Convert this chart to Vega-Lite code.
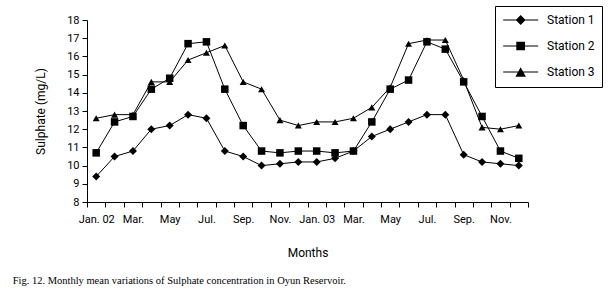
{
  "$schema": "https://vega.github.io/schema/vega-lite/v6.json",
  "width": 441,
  "height": 182,
  "autosize": {"type": "none"},
  "padding": {"left": 87, "top": 20, "right": 84, "bottom": 94},
  "background": "white",
  "config": {
    "view": {"stroke": null},
    "font": "Roboto",
    "axis": {
      "domainColor": "black",
      "tickColor": "black",
      "labelColor": "black",
      "titleColor": "black",
      "titleFontWeight": "normal",
      "labelFont": "Roboto",
      "titleFont": "Roboto",
      "labelFontSize": 11,
      "titleFontSize": 12,
      "tickSize": 5,
      "grid": false
    }
  },
  "title": {
    "text": "Fig. 12. Monthly mean variations of Sulphate concentration in Oyun Reservoir.",
    "orient": "bottom",
    "anchor": "start",
    "font": "Liberation Serif",
    "fontSize": 10.5,
    "fontWeight": "normal",
    "color": "black",
    "dx": -22,
    "offset": 18
  },
  "data": {
    "values": [
      {"date": "2002-01-15", "station": "Station 1", "sulphate": 9.4},
      {"date": "2002-02-15", "station": "Station 1", "sulphate": 10.5},
      {"date": "2002-03-15", "station": "Station 1", "sulphate": 10.8},
      {"date": "2002-04-15", "station": "Station 1", "sulphate": 12.0},
      {"date": "2002-05-15", "station": "Station 1", "sulphate": 12.2},
      {"date": "2002-06-15", "station": "Station 1", "sulphate": 12.8},
      {"date": "2002-07-15", "station": "Station 1", "sulphate": 12.6},
      {"date": "2002-08-15", "station": "Station 1", "sulphate": 10.8},
      {"date": "2002-09-15", "station": "Station 1", "sulphate": 10.5},
      {"date": "2002-10-15", "station": "Station 1", "sulphate": 10.0},
      {"date": "2002-11-15", "station": "Station 1", "sulphate": 10.1},
      {"date": "2002-12-15", "station": "Station 1", "sulphate": 10.2},
      {"date": "2003-01-15", "station": "Station 1", "sulphate": 10.2},
      {"date": "2003-02-15", "station": "Station 1", "sulphate": 10.4},
      {"date": "2003-03-15", "station": "Station 1", "sulphate": 10.8},
      {"date": "2003-04-15", "station": "Station 1", "sulphate": 11.6},
      {"date": "2003-05-15", "station": "Station 1", "sulphate": 12.0},
      {"date": "2003-06-15", "station": "Station 1", "sulphate": 12.4},
      {"date": "2003-07-15", "station": "Station 1", "sulphate": 12.8},
      {"date": "2003-08-15", "station": "Station 1", "sulphate": 12.8},
      {"date": "2003-09-15", "station": "Station 1", "sulphate": 10.6},
      {"date": "2003-10-15", "station": "Station 1", "sulphate": 10.2},
      {"date": "2003-11-15", "station": "Station 1", "sulphate": 10.1},
      {"date": "2003-12-15", "station": "Station 1", "sulphate": 10.0},
      {"date": "2002-01-15", "station": "Station 2", "sulphate": 10.7},
      {"date": "2002-02-15", "station": "Station 2", "sulphate": 12.4},
      {"date": "2002-03-15", "station": "Station 2", "sulphate": 12.7},
      {"date": "2002-04-15", "station": "Station 2", "sulphate": 14.2},
      {"date": "2002-05-15", "station": "Station 2", "sulphate": 14.8},
      {"date": "2002-06-15", "station": "Station 2", "sulphate": 16.7},
      {"date": "2002-07-15", "station": "Station 2", "sulphate": 16.8},
      {"date": "2002-08-15", "station": "Station 2", "sulphate": 14.2},
      {"date": "2002-09-15", "station": "Station 2", "sulphate": 12.2},
      {"date": "2002-10-15", "station": "Station 2", "sulphate": 10.8},
      {"date": "2002-11-15", "station": "Station 2", "sulphate": 10.7},
      {"date": "2002-12-15", "station": "Station 2", "sulphate": 10.8},
      {"date": "2003-01-15", "station": "Station 2", "sulphate": 10.8},
      {"date": "2003-02-15", "station": "Station 2", "sulphate": 10.7},
      {"date": "2003-03-15", "station": "Station 2", "sulphate": 10.8},
      {"date": "2003-04-15", "station": "Station 2", "sulphate": 12.4},
      {"date": "2003-05-15", "station": "Station 2", "sulphate": 14.2},
      {"date": "2003-06-15", "station": "Station 2", "sulphate": 14.7},
      {"date": "2003-07-15", "station": "Station 2", "sulphate": 16.8},
      {"date": "2003-08-15", "station": "Station 2", "sulphate": 16.4},
      {"date": "2003-09-15", "station": "Station 2", "sulphate": 14.6},
      {"date": "2003-10-15", "station": "Station 2", "sulphate": 12.7},
      {"date": "2003-11-15", "station": "Station 2", "sulphate": 10.8},
      {"date": "2003-12-15", "station": "Station 2", "sulphate": 10.4},
      {"date": "2002-01-15", "station": "Station 3", "sulphate": 12.6},
      {"date": "2002-02-15", "station": "Station 3", "sulphate": 12.8},
      {"date": "2002-03-15", "station": "Station 3", "sulphate": 12.8},
      {"date": "2002-04-15", "station": "Station 3", "sulphate": 14.6},
      {"date": "2002-05-15", "station": "Station 3", "sulphate": 14.6},
      {"date": "2002-06-15", "station": "Station 3", "sulphate": 15.8},
      {"date": "2002-07-15", "station": "Station 3", "sulphate": 16.2},
      {"date": "2002-08-15", "station": "Station 3", "sulphate": 16.6},
      {"date": "2002-09-15", "station": "Station 3", "sulphate": 14.6},
      {"date": "2002-10-15", "station": "Station 3", "sulphate": 14.2},
      {"date": "2002-11-15", "station": "Station 3", "sulphate": 12.5},
      {"date": "2002-12-15", "station": "Station 3", "sulphate": 12.2},
      {"date": "2003-01-15", "station": "Station 3", "sulphate": 12.4},
      {"date": "2003-02-15", "station": "Station 3", "sulphate": 12.4},
      {"date": "2003-03-15", "station": "Station 3", "sulphate": 12.6},
      {"date": "2003-04-15", "station": "Station 3", "sulphate": 13.2},
      {"date": "2003-05-15", "station": "Station 3", "sulphate": 14.3},
      {"date": "2003-06-15", "station": "Station 3", "sulphate": 16.7},
      {"date": "2003-07-15", "station": "Station 3", "sulphate": 16.9},
      {"date": "2003-08-15", "station": "Station 3", "sulphate": 16.9},
      {"date": "2003-09-15", "station": "Station 3", "sulphate": 14.7},
      {"date": "2003-10-15", "station": "Station 3", "sulphate": 12.1},
      {"date": "2003-11-15", "station": "Station 3", "sulphate": 12.0},
      {"date": "2003-12-15", "station": "Station 3", "sulphate": 12.2}
    ]
  },
  "encoding": {
    "x": {
      "field": "date",
      "timeUnit": "yearmonth",
      "type": "ordinal",
      "scale": {"paddingInner": 0, "paddingOuter": 0},
      "axis": {
        "title": "Months",
        "tickBand": "extent",
        "labelAngle": 0,
        "labelOverlap": false,
        "labelPadding": 6,
        "titlePadding": 23,
        "labelExpr": "month(datum.value) == 0 ? timeFormat(datum.value, '%b. %y') : month(datum.value) == 4 ? 'May' : month(datum.value) % 2 == 0 ? timeFormat(datum.value, '%b.') : ''"
      }
    },
    "y": {
      "field": "sulphate",
      "type": "quantitative",
      "scale": {"domain": [8, 18], "nice": false, "zero": false},
      "axis": {
        "title": "Sulphate (mg/L)",
        "values": [8, 9, 10, 11, 12, 13, 14, 15, 16, 17, 18],
        "labelPadding": 3,
        "titlePadding": 19
      }
    }
  },
  "layer": [
    {
      "mark": {"type": "line", "color": "black", "strokeWidth": 1},
      "encoding": {"detail": {"field": "station", "type": "nominal"}}
    },
    {
      "mark": {"type": "point", "filled": true, "color": "black", "opacity": 1},
      "encoding": {
        "shape": {
          "field": "station",
          "type": "nominal",
          "scale": {"domain": ["Station 1", "Station 2", "Station 3"], "range": ["diamond", "square", "triangle-up"]},
          "legend": null
        },
        "size": {
          "field": "station",
          "type": "ordinal",
          "scale": {"domain": ["Station 1", "Station 2", "Station 3"], "range": [64, 49, 81]},
          "legend": null
        }
      }
    },
    {
      "transform": [{"filter": "false"}],
      "mark": {"type": "point", "filled": true, "color": "black", "opacity": 1, "size": 136},
      "encoding": {
        "shape": {
          "field": "station",
          "type": "nominal",
          "scale": {
            "domain": ["Station 1", "Station 2", "Station 3"],
            "range": [
              "M-1,-0.086L5,-0.086L5,0.086L-1,0.086ZM2,-0.85L2.85,0L2,0.85L1.15,0Z",
              "M-1,-0.086L5,-0.086L5,0.086L-1,0.086ZM1.25,-0.75L2.75,-0.75L2.75,0.75L1.25,0.75Z",
              "M-1,-0.086L5,-0.086L5,0.086L-1,0.086ZM2,-0.8L2.9,0.8L1.1,0.8Z"
            ]
          },
          "legend": {
            "title": null,
            "orient": "none",
            "legendX": 408,
            "legendY": -14,
            "padding": 7,
            "rowPadding": 10,
            "labelOffset": 31,
            "strokeColor": "black",
            "fillColor": "white",
            "symbolSize": 136,
            "symbolFillColor": "black",
            "symbolOpacity": 1,
            "labelFont": "Roboto",
            "labelFontSize": 12,
            "labelColor": "black"
          }
        }
      }
    }
  ],
  "resolve": {"scale": {"shape": "independent"}, "legend": {"shape": "independent"}}
}
